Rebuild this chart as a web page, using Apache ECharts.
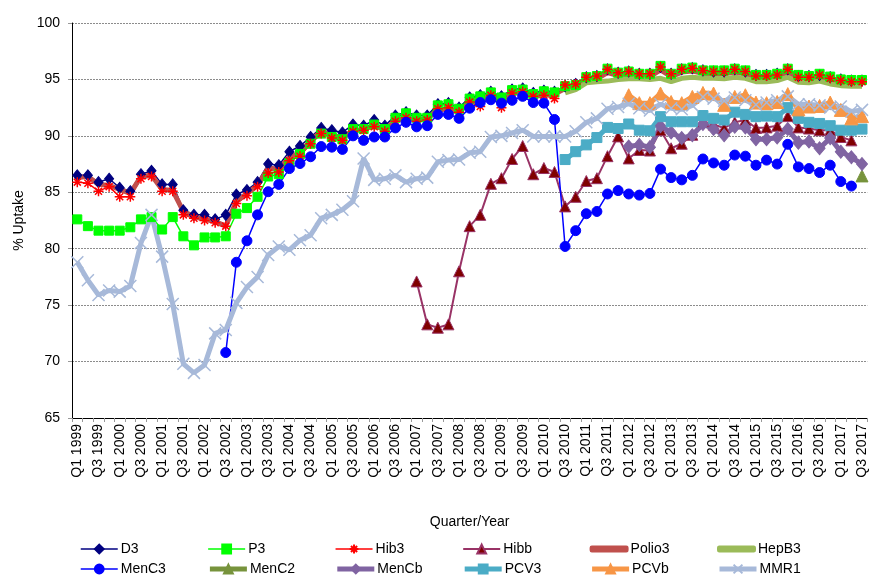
<!DOCTYPE html>
<html>
<head>
<meta charset="utf-8">
<script src="https://cdn.jsdelivr.net/npm/echarts@6/dist/echarts.min.js"></script>
<style>
  html, body { margin: 0; padding: 0; background: #fff; }
  #chart { width: 869px; height: 581px; }
</style>
</head>
<body>
<div id="chart"></div>
<script>
// quarters Q1 1999 .. Q3 2017
const categories = []
for (let y = 1999; y <= 2017; y++) {
  for (let q = 1; q <= 4; q++) {
    if (y === 2017 && q > 3) break
    categories.push('Q' + q + ' ' + y)
  }
}
const yTicks = [65, 70, 75, 80, 85, 90, 95, 100]
const _ = null

const d3 = [86.5, 86.5, 85.9, 86.2, 85.4, 85.1, 86.6, 86.9, 85.7, 85.7, 83.4, 83.0, 83.0, 82.6, 83.0, 84.8, 85.2, 85.9, 87.5, 87.4,
  88.6, 89.1, 89.9, 90.7, 90.5, 90.3, 91.0, 90.9, 91.4, 90.9, 91.8, 92.1, 91.8, 91.8, 92.8, 92.9, 92.5, 93.4, 93.6, 93.9,
  93.5, 94.1, 94.2, 93.8, 94.0, 93.9, 94.4, 94.6, 95.2, 95.3, 95.9, 95.6, 95.7, 95.5, 95.5, 96.1, 95.5, 95.9, 96.0, 95.8,
  95.7, 95.7, 95.9, 95.7, 95.4, 95.4, 95.5, 95.9, 95.3, 95.3, 95.4, 95.2, 95.0, 94.9, 94.9]
const p3 = [82.6, 82.0, 81.6, 81.6, 81.6, 81.9, 82.6, 82.8, 81.7, 82.8, 81.1, 80.3, 81.0, 81.0, 81.1, 83.1, 83.6, 84.6, 86.4, 86.6,
  87.6, 88.4, 89.3, 90.2, 89.9, 89.7, 90.6, 90.6, 91.0, 90.6, 91.6, 92.0, 91.6, 91.6, 92.7, 92.8, 92.4, 93.3, 93.5, 93.85,
  93.4, 94.05, 94.1, 93.7, 93.95, 93.85, 94.4, 94.5, 95.2, 95.3, 95.95, 95.6, 95.7, 95.5, 95.5, 96.2, 95.5, 95.95, 96.05, 95.8,
  95.8, 95.8, 95.95, 95.8, 95.4, 95.4, 95.5, 95.95, 95.4, 95.3, 95.5, 95.25, 95.0, 94.95, 94.95]
const hib3 = [85.9, 85.8, 85.1, 85.5, 84.6, 84.6, 86.2, 86.4, 85.1, 85.1, 83.0, 82.7, 82.5, 82.3, 82.0, 84.0, 84.7, 85.5, 86.7, 86.8,
  87.8, 88.2, 89.3, 90.2, 89.8, 89.6, 90.4, 90.5, 90.8, 90.4, 91.3, 91.6, 91.3, 91.4, 92.4, 92.5, 92.1, 93.0, 92.6, 93.6,
  92.5, 93.8, 93.9, 93.5, 93.6, 93.3, 94.5, 94.6, 95.2, 95.3, 95.9, 95.6, 95.7, 95.5, 95.5, 96.1, 95.5, 95.9, 96.0, 95.8,
  95.7, 95.7, 95.9, 95.7, 95.3, 95.3, 95.4, 95.9, 95.2, 95.2, 95.4, 95.1, 94.9, 94.8, 94.8]
const hibb = [_, _, _, _, _, _, _, _, _, _, _, _, _, _, _, _, _, _, _, _,
  _, _, _, _, _, _, _, _, _, _, _, _, 77.1, 73.3, 73.0, 73.3, 78.0, 82.0, 83.0, 85.75,
  86.25, 87.95, 89.1, 86.6, 87.15, 86.8, 83.75, 84.6, 86.0, 86.25, 88.2, 89.95, 88.0, 88.75, 88.7, 90.5, 88.9, 89.3, 90.1, 91.3,
  91.0, 90.7, 91.2, 91.4, 90.7, 90.75, 90.9, 91.75, 90.75, 90.65, 90.5, 90.5, 89.9, 89.6, _]
const polio3 = [86.3, 86.4, 85.7, 85.6, 85.25, 84.9, 86.4, 86.5, 85.25, 85.15, 83.3, 82.85, 82.6, 82.4, 82.0, 84.2, 84.9, 85.6, 87.15, 87.05,
  88.1, 88.5, 89.6, 90.4, 90.1, 89.8, 90.5, 90.5, 91.0, 90.5, 91.4, 91.6, 91.4, 91.5, 92.3, 92.4, 92.1, 93.0, 93.2, 93.5,
  93.2, 93.8, 93.8, 93.5, 93.6, 93.7, 94.2, 94.3, 94.95, 95.05, 95.6, 95.35, 95.45, 95.25, 95.25, 95.85, 95.25, 95.65, 95.75, 95.55,
  95.5, 95.5, 95.65, 95.5, 95.15, 95.15, 95.25, 95.65, 95.1, 95.05, 95.2, 95.0, 94.75, 94.7, 94.7]
const hepb3 = [_, _, _, _, _, _, _, _, _, _, _, _, _, _, _, _, _, _, _, _,
  _, _, _, _, _, _, _, _, _, _, _, _, _, _, _, _, _, _, _, _,
  _, _, _, _, _, _, 93.8, 94.1, 94.7, 94.8, 94.85, 95.0, 95.05, 95.05, 95.0, 95.1, 94.8, 95.1, 95.2, 95.1,
  95.1, 95.05, 95.2, 95.1, 94.8, 94.8, 94.9, 95.2, 94.75, 94.7, 94.85, 94.6, 94.45, 94.4, 94.4]
const menc3 = [_, _, _, _, _, _, _, _, _, _, _, _, _, _, 70.8, 78.8, 80.7, 83.0, 85.05, 85.7,
  87.1, 87.55, 88.15, 89.05, 89.0, 88.8, 90.0, 89.6, 89.9, 89.9, 90.7, 91.2, 90.8, 90.9, 91.9, 91.9, 91.55, 92.45, 92.95, 93.2,
  92.9, 93.15, 93.5, 92.95, 92.9, 91.45, 80.2, 81.6, 83.1, 83.3, 84.85, 85.15, 84.85, 84.75, 84.9, 87.05, 86.3, 86.1, 86.5, 87.95,
  87.6, 87.4, 88.3, 88.2, 87.4, 87.85, 87.5, 89.25, 87.25, 87.1, 86.75, 87.4, 85.95, 85.55, _]
const menc2 = [_, _, _, _, _, _, _, _, _, _, _, _, _, _, _, _, _, _, _, _,
  _, _, _, _, _, _, _, _, _, _, _, _, _, _, _, _, _, _, _, _,
  _, _, _, _, _, _, _, _, _, _, _, _, _, _, _, _, _, _, _, _,
  _, _, _, _, _, _, _, _, _, _, _, _, _, _, 86.45]
const mencb = [_, _, _, _, _, _, _, _, _, _, _, _, _, _, _, _, _, _, _, _,
  _, _, _, _, _, _, _, _, _, _, _, _, _, _, _, _, _, _, _, _,
  _, _, _, _, _, _, _, _, _, _, _, _, 89.05, 89.2, 89.0, 90.85, 90.3, 89.8, 90.05, 91.05,
  90.6, 90.05, 90.8, 90.75, 89.7, 89.7, 89.85, 90.6, 89.4, 89.5, 88.9, 89.8, 88.6, 88.1, 87.5]
const pcv3 = [_, _, _, _, _, _, _, _, _, _, _, _, _, _, _, _, _, _, _, _,
  _, _, _, _, _, _, _, _, _, _, _, _, _, _, _, _, _, _, _, _,
  _, _, _, _, _, _, 87.9, 88.6, 89.2, 89.85, 90.75, 90.65, 91.05, 90.5, 90.45, 91.7, 91.25, 91.25, 91.25, 91.8,
  91.55, 91.4, 92.1, 91.9, 91.7, 91.75, 91.7, 92.5, 91.55, 91.2, 91.1, 90.9, 90.5, 90.5, 90.6]
const pcvb = [_, _, _, _, _, _, _, _, _, _, _, _, _, _, _, _, _, _, _, _,
  _, _, _, _, _, _, _, _, _, _, _, _, _, _, _, _, _, _, _, _,
  _, _, _, _, _, _, _, _, _, _, _, _, 93.6, 92.9, 92.9, 93.75, 93.0, 92.9, 93.45, 93.8,
  93.75, 92.75, 93.45, 93.6, 92.95, 92.9, 93.0, 93.7, 92.35, 92.6, 92.65, 92.95, 92.3, 91.55, 91.75]
const mmr1 = [78.8, 77.2, 75.9, 76.3, 76.2, 76.7, 80.5, 83.0, 79.3, 75.1, 69.8, 69.0, 69.7, 72.5, 72.8, 75.2, 76.6, 77.5, 79.45, 80.2,
  79.9, 80.75, 81.2, 82.7, 83.0, 83.45, 84.2, 88.0, 86.1, 86.2, 86.5, 85.9, 86.2, 86.3, 87.7, 87.85, 87.9, 88.5, 88.6, 89.9,
  90.0, 90.25, 90.5, 89.95, 89.95, 89.95, 89.95, 90.4, 91.2, 91.55, 92.4, 92.55, 92.85, 92.45, 92.25, 92.8, 92.45, 92.35, 92.7, 93.45,
  93.3, 93.1, 93.4, 93.15, 92.75, 92.95, 93.15, 93.5, 92.8, 92.8, 92.7, 92.5, 92.6, 92.15, 92.3]

const FONT = 'Liberation Sans, Arial, sans-serif'
const ASTERISK = 'path://M0,5L10,5M5,0L5,10M1.5,1.5L8.5,8.5M8.5,1.5L1.5,8.5'
const CROSS = 'path://M0,0L10,10M10,0L0,10'

// name, data, line colour, line width, symbol, symbol size, marker fill, marker border
const seriesDefs = [
  ['D3', d3, '#000080', 1.5, 'diamond', [9, 11], '#000080', '#000080'],
  ['P3', p3, '#00FF00', 1.5, 'rect', 9, '#00FF00', '#00FF00'],
  ['Hib3', hib3, '#FF0000', 1.5, ASTERISK, 10, '#FF0000', '#FF0000'],
  ['Hibb', hibb, '#993366', 2, 'triangle', 11, '#800000', '#993366'],
  ['Polio3', polio3, '#C0504D', 5, 'none', 0, '#C0504D', '#C0504D'],
  ['HepB3', hepb3, '#9BBB59', 5, 'none', 0, '#9BBB59', '#9BBB59'],
  ['MenC3', menc3, '#0000FF', 1.5, 'circle', 10, '#0000FF', '#0000FF'],
  ['MenC2', menc2, '#77933C', 5, 'triangle', 12, '#77933C', '#77933C'],
  ['MenCb', mencb, '#8064A2', 5, 'diamond', [11, 13], '#8064A2', '#8064A2'],
  ['PCV3', pcv3, '#4BACC6', 5, 'rect', 10, '#4BACC6', '#4BACC6'],
  ['PCVb', pcvb, '#F79646', 5, 'triangle', 13, '#F79646', '#F79646'],
  ['MMR1', mmr1, '#A7B9D9', 5, CROSS, 12, '#A7B9D9', '#A7B9D9']
]

const buildSeries = () => seriesDefs.map(([name, data, color, width, symbol, size, fill, border]) => ({
  name,
  type: 'line',
  data,
  symbol,
  symbolSize: size,
  showSymbol: symbol !== 'none',
  showAllSymbol: true,
  connectNulls: false,
  lineStyle: { color, width },
  itemStyle: {
    color: fill,
    borderColor: border,
    borderWidth: (symbol === ASTERISK || symbol === CROSS) ? 1.5 : 1
  },
  emphasis: { disabled: true }
}))

// one legend per entry so the columns sit on a fixed grid
const buildLegends = () => seriesDefs.map(([name, , color, width, symbol], i) => {
  const col = i % 6
  const row = Math.floor(i / 6)
  const plain = symbol === 'none'
  return {
    data: [name],
    left: 80 + col * 127.4,
    top: 542 + row * 20,
    padding: 0,
    itemGap: 0,
    itemWidth: 37,
    itemHeight: plain ? 5 : 11,
    icon: plain ? 'roundRect' : undefined,
    lineStyle: { width: width, color: color },
    selectedMode: false,
    textStyle: { fontFamily: FONT, fontSize: 14, color: '#000', padding: [0, 0, 0, -2] }
  }
})

const chart = echarts.init(document.getElementById('chart'), null, { renderer: 'canvas' })

const setOptions = () => {
  chart.setOption({
    animation: false,
    textStyle: { fontFamily: FONT },
    grid: { left: 72, right: 1, top: 23, bottom: 163, containLabel: false },
    legend: buildLegends(),
    xAxis: {
      type: 'category',
      data: categories,
      boundaryGap: true,
      name: 'Quarter/Year',
      nameLocation: 'middle',
      nameGap: 97,
      nameTextStyle: { fontFamily: FONT, fontSize: 14, color: '#000' },
      axisLine: { show: true, lineStyle: { color: '#000', width: 1 } },
      axisTick: { show: true, interval: 0, length: 4, lineStyle: { color: '#999' } },
      axisLabel: { interval: 1, rotate: 90, margin: 6, fontFamily: FONT, fontSize: 14, color: '#000' },
      splitLine: { show: false }
    },
    yAxis: {
      type: 'value',
      min: yTicks[0],
      max: yTicks[yTicks.length - 1],
      interval: 5,
      name: '% Uptake',
      nameLocation: 'middle',
      nameGap: 44,
      nameRotate: 90,
      nameTextStyle: { fontFamily: FONT, fontSize: 14, color: '#000' },
      axisLine: { show: true, lineStyle: { color: '#000', width: 1 } },
      axisTick: { show: true, length: 4, lineStyle: { color: '#999' } },
      axisLabel: { margin: 12, fontFamily: FONT, fontSize: 14, color: '#000' },
      splitLine: { show: true, lineStyle: { color: '#8c8c8c', width: 1, type: [2, 1] } }
    },
    series: buildSeries()
  }, true)
}

setOptions()
</script>
</body>
</html>
